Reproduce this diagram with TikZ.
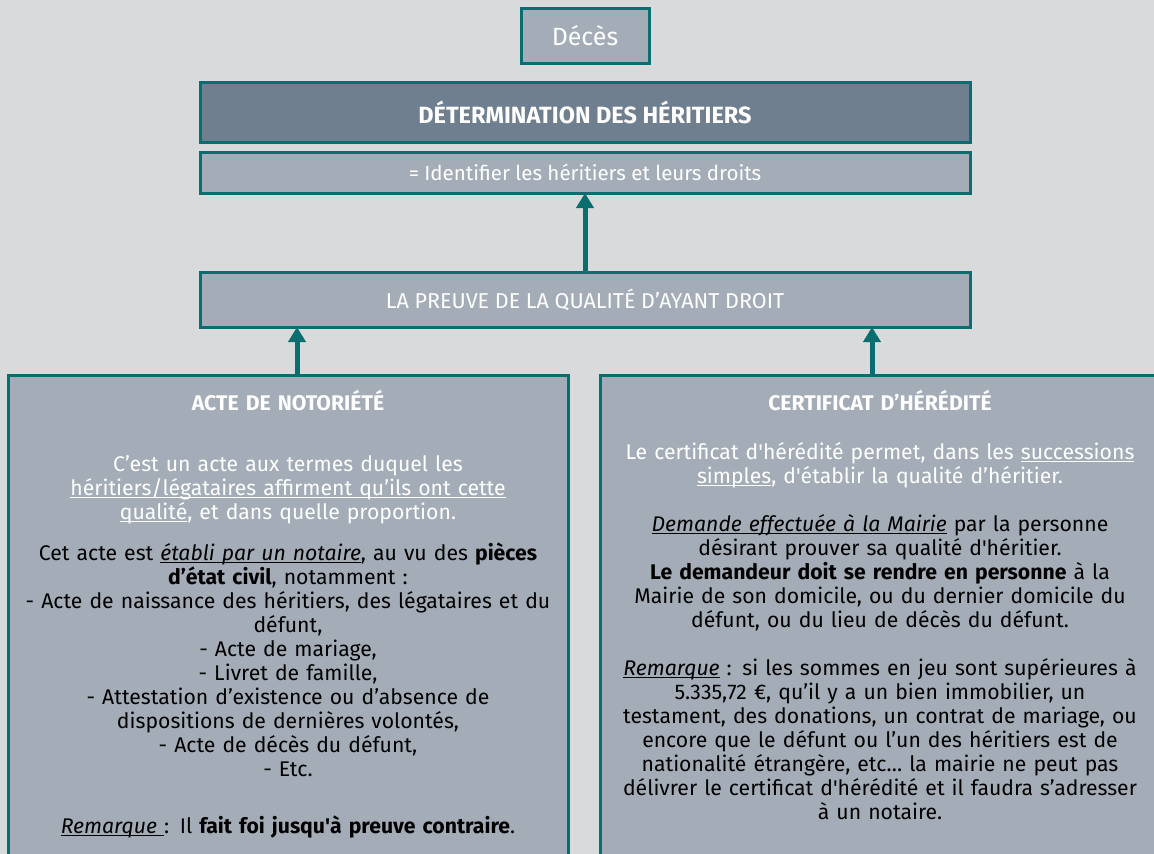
\documentclass[tikz,border=0pt]{standalone}
\usepackage{fontspec}
\setmainfont{Fira Sans}
\usetikzlibrary{positioning, arrows.meta}

\definecolor{bgcol}{HTML}{D9DADC}
\definecolor{boxcol}{HTML}{A4ADB7}
\definecolor{headcol}{HTML}{6F7F8F}
\definecolor{edgecol}{HTML}{0B6E6E}

% underline just below the baseline
\newcommand{\uln}[1]{\leavevmode\setbox0\hbox{#1}\rlap{\rule[-3pt]{\wd0}{1.3pt}}\box0\relax}

\tikzset{
  box/.style={draw=edgecol, line width=3pt, fill=boxcol, text=white, outer sep=0pt, inner sep=0pt, minimum width=770pt},
  bigbox/.style={draw=edgecol, line width=3pt, fill=boxcol, outer sep=0pt, minimum width=560pt, minimum height=520pt},
  bodytext/.style={text=white, text width=550pt, align=center, inner sep=0pt, font=\fontsize{21.2}{24}\selectfont},
  arrow/.style={draw=edgecol, line width=5pt, -{Triangle[width=17pt,length=15pt]}}
}

\begin{document}
\begin{tikzpicture}[x=1pt, y=-1pt]
\fill [bgcol] (0,0) rectangle (1154,854);
\useasboundingbox (0,0) rectangle (1154,854);

\node [box, minimum width=128pt, minimum height=55pt, font=\fontsize{25}{28}\selectfont] (deces) at (585,35.5) {Décès};
\node [box, fill=headcol, minimum height=60pt, below=19pt of deces, font=\fontsize{23.5}{26}\selectfont\bfseries] (determination) {DÉTERMINATION DES HÉRITIERS};
\node [box, minimum height=41pt, below=10pt of determination, font=\fontsize{20.5}{24}\selectfont] (identifier) {= Identifier les héritiers et leurs droits};
\node [box, minimum height=55pt, below=79pt of identifier, font=\fontsize{21.5}{24}\selectfont] (preuve) {LA PREUVE DE LA QUALITÉ D’AYANT DROIT};

\node [bigbox, below=48pt of preuve, xshift=-297pt] (notoriete) {};
\node [bigbox, below=48pt of preuve, xshift=295pt] (heredite) {};

\node [bodytext, below=15pt of notoriete.north] (notorietetext) {%
\textbf{ACTE DE NOTORIÉTÉ}\\[37pt]
C’est un acte aux termes duquel les\\
\uln{héritiers/légataires affirment qu’ils ont cette}\\
\uln{qualité}, et dans quelle proportion.\\[17pt]
\color{black}Cet acte est \uln{\textit{établi par un notaire}}, au vu des \textbf{pièces}\\
\textbf{d’état civil}, notamment :\\
- Acte de naissance des héritiers, des légataires et du\\
défunt,\\
- Acte de mariage,\\
- Livret de famille,\\
- Attestation d’existence ou d’absence de\\
dispositions de dernières volontés,\\
- Acte de décès du défunt,\\
- Etc.\\[33pt]
\uln{\textit{Remarque }}: Il \textbf{fait foi jusqu\textquotesingle à preuve contraire}.};

\node [bodytext, below=15pt of heredite.north] (hereditetext) {%
\textbf{CERTIFICAT D’HÉRÉDITÉ}\\[25pt]
Le certificat d\textquotesingle hérédité permet, dans les \uln{successions}\\
\uln{simples}, d\textquotesingle établir la qualité d’héritier.\\[24pt]
\color{black}\uln{\textit{Demande effectuée à la Mairie}} par la personne\\
désirant prouver sa qualité d\textquotesingle héritier.\\
\textbf{Le demandeur doit se rendre en personne} à la\\
Mairie de son domicile, ou du dernier domicile du\\
défunt, ou du lieu de décès du défunt.\\[24pt]
\uln{\textit{Remarque}} : si les sommes en jeu sont supérieures à\\
5.335,72 €, qu’il y a un bien immobilier, un\\
testament, des donations, un contrat de mariage, ou\\
encore que le défunt ou l’un des héritiers est de\\
nationalité étrangère, etc… la mairie ne peut pas\\
délivrer le certificat d\textquotesingle hérédité et il faudra s’adresser\\
à un notaire.};

\draw [arrow] (preuve) -- (identifier);
\draw [arrow] ([xshift=9pt]notoriete.north) -- ([xshift=9pt]notoriete.north |- preuve.south);
\draw [arrow] ([xshift=-8pt]heredite.north) -- ([xshift=-8pt]heredite.north |- preuve.south);
\end{tikzpicture}
\end{document}
